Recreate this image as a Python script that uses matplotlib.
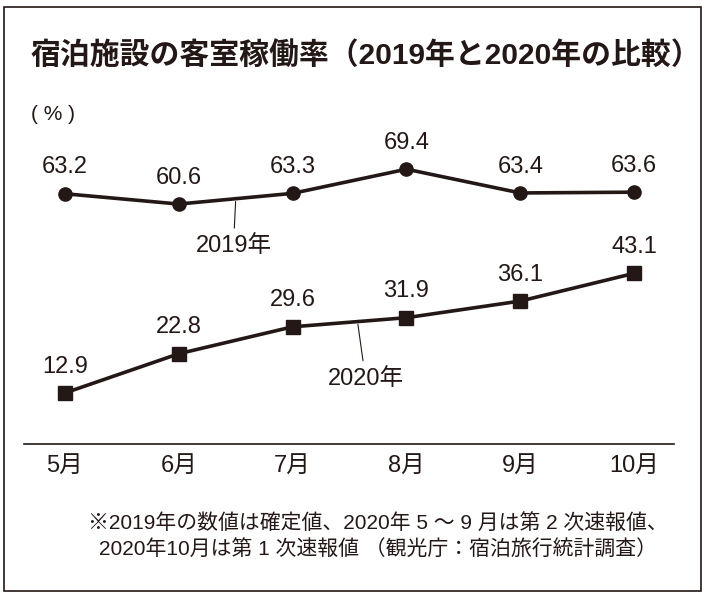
import matplotlib
matplotlib.use("Agg")
import matplotlib.pyplot as plt
import matplotlib.patches as mpatches
import numpy as np

plt.rcParams["font.family"] = ["Liberation Sans", "Noto Sans CJK JP"]

INK = "#231815"

months = ["5月", "6月", "7月", "8月", "9月", "10月"]
rate_2019 = [63.2, 60.6, 63.3, 69.4, 63.4, 63.6]
rate_2020 = [12.9, 22.8, 29.6, 31.9, 36.1, 43.1]

title = "宿泊施設の客室稼働率（2019年と2020年の比較）"
unit_label = "( % )"
note_lines = [
    "※2019年の数値は確定値、2020年 5 ～ 9 月は第 2 次速報値、",
    "2020年10月は第 1 次速報値 （観光庁：宿泊旅行統計調査）",
]

W, H = 711, 597
fig = plt.figure(figsize=(W / 100, H / 100), dpi=100)

# frame around the whole graphic
fig.patches.append(mpatches.Rectangle(
    (4 / W, 1 - 591 / H), 697 / W, 584 / H,
    transform=fig.transFigure, fill=False, edgecolor=INK, linewidth=1.2))

fig.text(31 / W, 1 - 55 / H, title, fontsize=21.5, fontweight="bold",
         color=INK, va="center", ha="left")
fig.text(31 / W, 1 - 115 / H, unit_label, fontsize=15, color=INK,
         va="center", ha="left")

ax = fig.add_axes([24 / W, 1 - 444 / H, 650 / W, 314 / H])
x = np.arange(len(months))
ax.set_xlim(-0.36, 5.35)
ax.set_ylim(0, 79.3)

ax.plot(x, rate_2019, color=INK, linewidth=2.6, marker="o", markersize=9.5,
        clip_on=False)
ax.plot(x, rate_2020, color=INK, linewidth=2.6, marker="s", markersize=10.5,
        clip_on=False)

for xi, v in zip(x, rate_2019):
    ax.annotate(f"{v:.1f}", (xi, v), xytext=(0, 19), textcoords="offset points",
                ha="center", va="center", fontsize=17, color=INK)
for xi, v in zip(x, rate_2020):
    ax.annotate(f"{v:.1f}", (xi, v), xytext=(0, 19), textcoords="offset points",
                ha="center", va="center", fontsize=17, color=INK)

# series labels with leader lines
a19 = 1.50
ax.annotate("2019年", (a19, np.interp(a19, x, rate_2019)), xytext=(1.48, 50.0),
            ha="center", va="center", fontsize=17, color=INK,
            arrowprops=dict(arrowstyle="-", color=INK, linewidth=0.8,
                            shrinkA=3, shrinkB=2))
a20 = 2.57
ax.annotate("2020年", (a20, np.interp(a20, x, rate_2020)), xytext=(2.64, 16.5),
            ha="center", va="center", fontsize=17, color=INK,
            arrowprops=dict(arrowstyle="-", color=INK, linewidth=0.8,
                            shrinkA=3, shrinkB=2))

for side in ["left", "right", "top"]:
    ax.spines[side].set_visible(False)
ax.spines["bottom"].set_color(INK)
ax.spines["bottom"].set_linewidth(1.2)
ax.set_yticks([])
ax.set_xticks(x)
ax.set_xticklabels(months, fontsize=17, color=INK)
ax.tick_params(axis="x", length=0, pad=8)

fig.text(88 / W, 1 - 524 / H, note_lines[0], fontsize=15, color=INK,
         va="center", ha="left")
fig.text(99 / W, 1 - 550 / H, note_lines[1], fontsize=15, color=INK,
         va="center", ha="left")

fig.savefig("out.png", dpi=100, facecolor="white")
plt.close(fig)
